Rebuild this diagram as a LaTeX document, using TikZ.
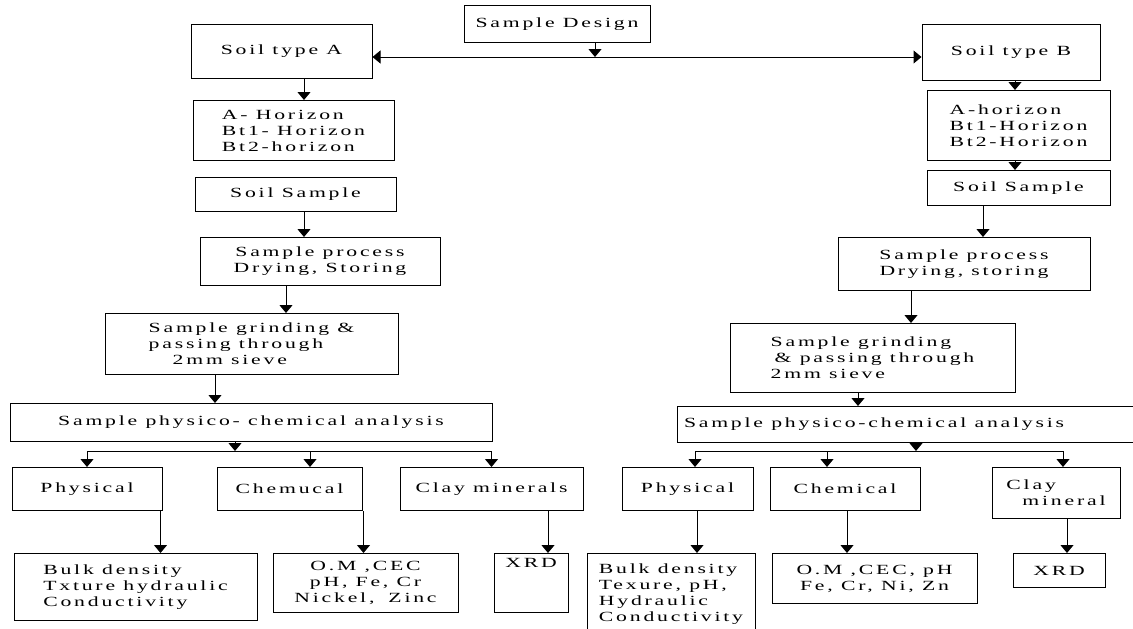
\documentclass[tikz,border=0pt]{standalone}
\usepackage{fontspec}
\setmainfont[FakeStretch=1.55,LetterSpace=20]{Liberation Serif}
\usepackage{tikz}
\usetikzlibrary{positioning,arrows.meta,calc}

\begin{document}
\begin{tikzpicture}[
    x=1pt, y=-1pt,
    box/.style={draw=black, line width=1pt, anchor=north, align=center, inner sep=2pt, font=\fontsize{14}{16}\selectfont},
    arr/.style={-{Triangle[width=13pt,length=8pt]}, line width=1pt},
    dbl/.style={{Triangle[width=13pt,length=8pt]}-{Triangle[width=13pt,length=8pt]}, line width=1pt},
    link/.style={line width=1pt}
]
    \useasboundingbox (0,0) rectangle (1133,629);

    % Sample design and the two soil types
    \node[box, minimum width=186pt, minimum height=37pt] (design) at (557,5) {Sample Design};
    \node[box, minimum width=181pt, minimum height=54pt] (soilA) at (281.5,24) {Soil type A};
    \node[box, minimum width=178pt, minimum height=56pt] (soilB) at (1011,24) {Soil type B};
    \coordinate (split) at (595,57);

    % Soil type A path
    \node[box, align=left, minimum width=201pt, minimum height=60pt] (horA) at (293.5,100) {A- Horizon\\Bt1- Horizon\\Bt2-horizon};
    \node[box, minimum width=201pt, minimum height=34pt] (sampA) at (295.5,177) {Soil Sample};
    \node[box, minimum width=240pt, minimum height=48pt] (procA) at (320,237) {Sample process\\Drying, Storing};
    \node[box, align=left, minimum width=293pt, minimum height=61pt] (grindA) at (251.5,313) {Sample grinding \&\\passing through\\\hspace{24pt}2mm sieve};
    \node[box, minimum width=482pt, minimum height=38pt] (anaA) at (251,403) {Sample physico- chemical analysis};
    \coordinate (jA) at (235,451);
    \node[box, minimum width=150pt, minimum height=43pt] (physA) at (87,467) {Physical};
    \node[box, minimum width=145pt, minimum height=43pt] (chemA) at (289.5,467) {Chemucal};
    \node[box, minimum width=183pt, minimum height=43pt] (clayA) at (491.5,467) {Clay minerals};
    \node[box, align=left, minimum width=243pt, minimum height=67pt] (bulkA) at (135.5,553) {Bulk density\\Txture hydraulic\\Conductivity};
    \node[box, minimum width=185pt, minimum height=59pt] (omA) at (365.5,553) {O.M ,CEC\\pH, Fe, Cr\\Nickel,\quad Zinc};
    \node[box, minimum width=74pt, minimum height=59pt, text depth=40pt] (xrdA) at (531,553) {XRD};

    % Soil type B path
    \node[box, align=left, minimum width=183pt, minimum height=70pt] (horB) at (1018.5,90) {A-horizon\\Bt1-Horizon\\Bt2-Horizon};
    \node[box, minimum width=183pt, minimum height=35pt] (sampB) at (1018.5,170) {Soil Sample};
    \node[box, minimum width=252pt, minimum height=53pt] (procB) at (964,237) {Sample process\\Drying, storing};
    \node[box, align=left, minimum width=285pt, minimum height=69pt] (grindB) at (872.5,323) {Sample grinding\\\hspace{4pt}\& passing through\\2mm sieve};
    \node[box, minimum width=470pt, minimum height=36pt] (anaB) at (912,406) {\makebox[456pt][l]{Sample physico-chemical analysis}};
    \coordinate (jB) at (916,451);
    \node[box, minimum width=131pt, minimum height=43pt] (physB) at (687.5,467) {Physical};
    \node[box, minimum width=150pt, minimum height=43pt] (chemB) at (845,467) {Chemical};
    \node[box, align=left, minimum width=128pt, minimum height=51pt] (clayB) at (1056,467) {Clay\\\hspace{16pt}mineral};
    \node[box, align=left, minimum width=168pt, minimum height=82pt] (bulkB) at (671,553) {Bulk density\\Texure, pH,\\Hydraulic\\Conductivity};
    \node[box, minimum width=205pt, minimum height=50pt] (omB) at (874.5,553) {O.M ,CEC, pH\\Fe, Cr, Ni, Zn};
    \node[box, minimum width=92pt, minimum height=34pt] (xrdB) at (1059,553) {XRD};

    % Connections, top
    \draw[arr] (design.south -| split) -- (split);
    \draw[dbl] (soilA.east |- split) -- (soilB.west |- split);

    % Connections, A
    \draw[arr] ([xshift=22.5pt]soilA.south) -- ([xshift=22.5pt]soilA.south |- horA.north);
    \draw[arr] ([xshift=8.5pt]sampA.south) -- ([xshift=8.5pt]sampA.south |- procA.north);
    \draw[arr] ([xshift=-34pt]procA.south) -- ([xshift=-34pt]procA.south |- grindA.north);
    \draw[arr] ([xshift=-36.5pt]grindA.south) -- ([xshift=-36.5pt]grindA.south |- anaA.north);
    \draw[arr] (anaA.south -| jA) -- (jA);
    \draw[link] (physA.north |- jA) -- (clayA.north |- jA);
    \draw[arr] (physA.north |- jA) -- (physA.north);
    \draw[arr] ([xshift=20.5pt]chemA.north |- jA) -- ([xshift=20.5pt]chemA.north);
    \draw[arr] (clayA.north |- jA) -- (clayA.north);
    \draw[arr] ([xshift=-2pt]physA.south east) -- ([xshift=-2pt]physA.south east |- bulkA.north);
    \draw[arr] ([xshift=1pt]chemA.south east) -- ([xshift=1pt]chemA.south east |- omA.north);
    \draw[arr] ([xshift=56.5pt]clayA.south) -- ([xshift=56.5pt]clayA.south |- xrdA.north);

    % Connections, B
    \draw[arr] ([xshift=4pt]soilB.south) -- ([xshift=4pt]soilB.south |- horB.north);
    \draw[arr] ([xshift=-3.5pt]horB.south) -- ([xshift=-3.5pt]horB.south |- sampB.north);
    \draw[arr] ([xshift=-35.5pt]sampB.south) -- ([xshift=-35.5pt]sampB.south |- procB.north);
    \draw[arr] ([xshift=-53pt]procB.south) -- ([xshift=-53pt]procB.south |- grindB.north);
    \draw[arr] ([xshift=-14.5pt]grindB.south) -- ([xshift=-14.5pt]grindB.south |- anaB.north);
    \draw[arr] (anaB.south -| jB) -- (jB);
    \draw[link] ([xshift=7.5pt]physB.north |- jB) -- ([xshift=7pt]clayB.north |- jB);
    \draw[arr] ([xshift=7.5pt]physB.north |- jB) -- ([xshift=7.5pt]physB.north);
    \draw[arr] ([xshift=-18pt]chemB.north |- jB) -- ([xshift=-18pt]chemB.north);
    \draw[arr] ([xshift=7pt]clayB.north |- jB) -- ([xshift=7pt]clayB.north);
    \draw[arr] ([xshift=9.5pt]physB.south) -- ([xshift=9.5pt]physB.south |- bulkB.north);
    \draw[arr] ([xshift=2pt]chemB.south) -- ([xshift=2pt]chemB.south |- omB.north);
    \draw[arr] ([xshift=11pt]clayB.south) -- ([xshift=11pt]clayB.south |- xrdB.north);
\end{tikzpicture}
\end{document}
